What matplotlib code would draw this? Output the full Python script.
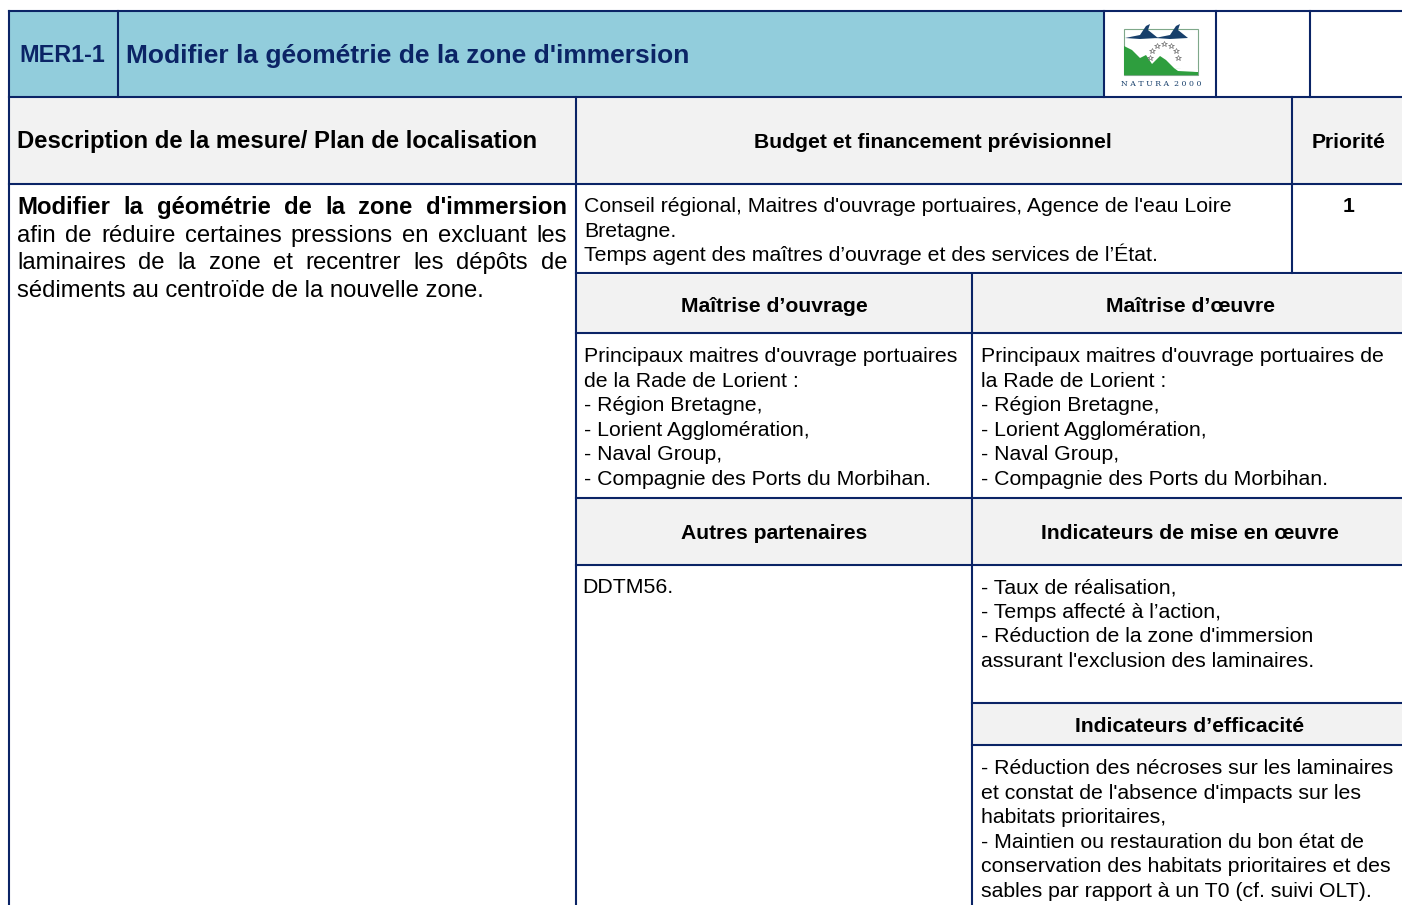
import matplotlib
matplotlib.use("Agg")
import matplotlib.pyplot as plt
from matplotlib.patches import Rectangle, Polygon

plt.rcParams['font.family'] = ['Liberation Sans', 'DejaVu Sans']

# ---- texts of the sheet ----
code_mesure = "MER1-1"
titre = "Modifier la géométrie de la zone d'immersion"
entetes_haut = ["Description de la mesure/ Plan de localisation",
                "Budget et financement prévisionnel", "Priorité"]
priorite = "1"
description_gras = "Modifier la géométrie de la zone d'immersion"
description_lignes = ["afin de réduire certaines pressions en excluant les",
                      "laminaires de la zone et recentrer les dépôts de",
                      "sédiments au centroïde de la nouvelle zone."]
budget = ["Conseil régional, Maitres d'ouvrage portuaires, Agence de l'eau Loire",
          "Bretagne.",
          "Temps agent des maîtres d’ouvrage et des services de l’État."]
entetes_milieu = ["Maîtrise d’ouvrage", "Maîtrise d’œuvre"]
maitrise_ouvrage = ["Principaux maitres d'ouvrage portuaires",
                    "de la Rade de Lorient :",
                    "- Région Bretagne,",
                    "- Lorient Agglomération,",
                    "- Naval Group,",
                    "- Compagnie des Ports du Morbihan."]
maitrise_oeuvre = ["Principaux maitres d'ouvrage portuaires de",
                   "la Rade de Lorient :",
                   "- Région Bretagne,",
                   "- Lorient Agglomération,",
                   "- Naval Group,",
                   "- Compagnie des Ports du Morbihan."]
entetes_bas = ["Autres partenaires", "Indicateurs de mise en œuvre"]
partenaires = ["DDTM56."]
indic_mise = ["- Taux de réalisation,",
              "- Temps affecté à l’action,",
              "- Réduction de la zone d'immersion",
              "assurant l'exclusion des laminaires."]
entete_efficacite = "Indicateurs d’efficacité"
indic_efficacite = ["- Réduction des nécroses sur les laminaires",
                    "et constat de l'absence d'impacts sur les",
                    "habitats prioritaires,",
                    "- Maintien ou restauration du bon état de",
                    "conservation des habitats prioritaires et des",
                    "sables par rapport à un T0 (cf. suivi OLT)."]

W, H = 1402, 905
bleu = "#92CDDC"
gris = "#F2F2F2"
trait = "#0B2466"
marine = "#0B2466"
corps = 15.3   # body font size
titre_col = 15.2

fig = plt.figure(figsize=(W / 100, H / 100), dpi=100)
ax = fig.add_axes([0, 0, 1, 1])
ax.set_xlim(0, W)
ax.set_ylim(H, 0)
ax.axis("off")


def case(x0, y0, x1, y1, couleur):
    ax.add_patch(Rectangle((x0, y0), x1 - x0, y1 - y0, facecolor=couleur,
                           edgecolor="none", zorder=1))


def hline(y, x0, x1):
    ax.plot([x0, x1], [y, y], color=trait, lw=1.5, zorder=3, solid_capstyle="projecting")


def vline(x, y0, y1):
    ax.plot([x, x], [y0, y1], color=trait, lw=1.5, zorder=3, solid_capstyle="projecting")


def lignes(x, y, textes, pas=24.6, size=corps, **kw):
    for i, t in enumerate(textes):
        ax.text(x, y + i * pas, t, fontsize=size, va="baseline", ha="left", zorder=4, **kw)


def entete(x, y, t):
    ax.text(x, y, t, fontsize=titre_col, fontweight="bold", ha="center",
            va="baseline", zorder=4)


# fills
case(9, 11, 1104, 97, bleu)
case(9, 97, 1402, 184, gris)
case(576, 275, 1402, 333, gris)
case(576, 499, 1402, 565, gris)
case(972, 703, 1402, 745, gris)

# borders
hline(11, 9, 1402)
hline(97, 9, 1402)
hline(184, 9, 1402)
hline(273, 576, 1402)
hline(333, 576, 1402)
hline(498, 576, 1402)
hline(565, 576, 1402)
hline(703, 972, 1402)
hline(745, 972, 1402)
vline(9, 11, 905)
vline(118, 11, 97)
vline(1104, 11, 97)
vline(1216, 11, 97)
vline(1310, 11, 97)
vline(576, 97, 905)
vline(1292, 97, 273)
vline(972, 275, 905)

# header band
ax.text(62, 62, code_mesure, fontsize=16.8, fontweight="bold", color=marine,
        ha="center", va="baseline", zorder=4)
ax.text(126, 63, titre, fontsize=19, fontweight="bold", color=marine,
        ha="left", va="baseline", zorder=4)

# Natura 2000 logo (simplified)
ax.add_patch(Rectangle((1124, 29), 74, 46, facecolor="none", edgecolor="#7FA88A", lw=0.8, zorder=4))
ax.add_patch(Polygon([(1124, 46), (1132, 50), (1140, 58), (1146, 55), (1152, 64),
                      (1160, 56), (1166, 60), (1174, 68), (1188, 70), (1198, 72),
                      (1198, 75), (1124, 75)], closed=True, facecolor="#2E9E3E",
                     edgecolor="none", zorder=5))
ax.add_patch(Polygon([(1174, 68), (1198, 69), (1198, 72), (1178, 71)], closed=True,
                     facecolor="white", edgecolor="none", zorder=6))
for bx in (1140, 1170):
    ax.add_patch(Polygon([(bx - 15, 38), (bx, 35), (bx + 6, 26), (bx + 10, 24),
                          (bx + 8, 30), (bx + 18, 38), (bx, 39)], closed=True,
                         facecolor="#173F6B", edgecolor="none", zorder=6))
for sx, sy in [(1150, 58), (1152, 51), (1157, 46), (1164, 44), (1171, 46),
               (1176, 51), (1178, 58)]:
    ax.plot(sx, sy, marker="*", ms=4, mfc="white", mec="#555555", mew=0.4, zorder=7)
ax.text(1161, 86, "N A T U R A  2 0 0 0", fontsize=5.6, family="DejaVu Serif",
        color="#173F6B", ha="center", va="baseline", zorder=7)

# second row headers
ax.text(17, 148, entetes_haut[0], fontsize=17.2, fontweight="bold", ha="left",
        va="baseline", zorder=4)
entete(933, 148, entetes_haut[1])
entete(1349, 148, entetes_haut[2])

# left column, justified paragraph
fig.canvas.draw()
renderer = fig.canvas.get_renderer()


def justifie(ligne, y, x0, x1, size, poids="normal"):
    mots = ligne.split(" ")
    objets = [ax.text(0, y, m, fontsize=size, fontweight=poids, va="baseline",
                      ha="left", zorder=4) for m in mots]
    larg = [o.get_window_extent(renderer).width for o in objets]
    ecart = (x1 - x0 - sum(larg)) / (len(mots) - 1)
    x = x0
    for o, l in zip(objets, larg):
        o.set_x(x)
        x += l + ecart


justifie(description_gras, 214, 17, 567, 17.2, "bold")
justifie(description_lignes[0], 242, 17, 567, 17.2)
justifie(description_lignes[1], 269, 17, 567, 17.2)
ax.text(17, 297, description_lignes[2], fontsize=17.2, va="baseline", ha="left", zorder=4)

# budget + priority
lignes(584, 212, budget)
entete(1349, 212, priorite)

# middle rows
entete(774, 312, entetes_milieu[0])
entete(1190, 312, entetes_milieu[1])
lignes(584, 362, maitrise_ouvrage)
lignes(981, 362, maitrise_oeuvre)

entete(774, 539, entetes_bas[0])
entete(1190, 539, entetes_bas[1])
lignes(582, 593, partenaires)
lignes(981, 593, indic_mise)

entete(1190, 732, entete_efficacite)
lignes(981, 774, indic_efficacite)

fig.savefig("out.png", dpi=100, facecolor="white")
